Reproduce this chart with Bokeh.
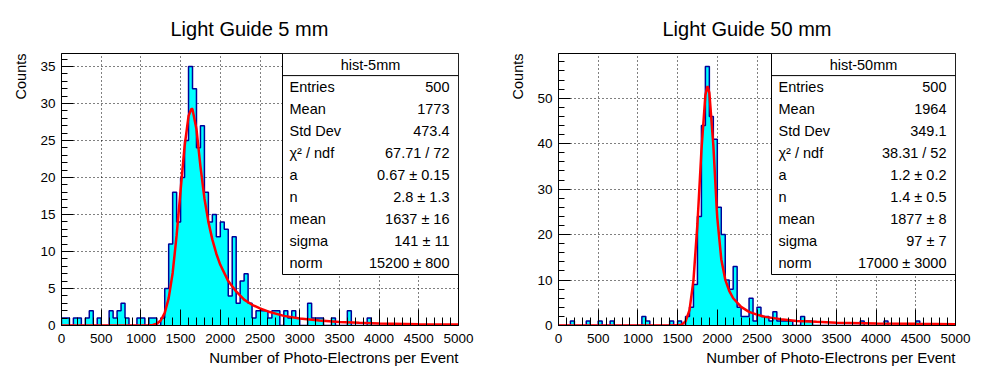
import numpy as np
from bokeh.plotting import figure
from bokeh.models import Label, Range1d, SingleIntervalTicker, Title
from bokeh.layouts import row
from bokeh.embed import file_html
from bokeh.resources import INLINE

# ---------------- data ----------------
bin_width = 50
n_bins = 100

counts_5mm = [
    1, 1, 0, 1, 1, 0, 1, 2, 0, 1,
    0, 0, 2, 1, 2, 3, 1, 0, 0, 1,
    1, 0, 1, 1, 0, 1, 5, 11, 18, 14,
    20, 25, 35, 32, 24, 27, 18, 14, 15, 12,
    14, 13, 4, 12, 3, 6, 7, 3, 1, 2,
    2, 2, 1, 2, 2, 0, 2, 1, 2, 1,
    0, 0, 3, 1, 1, 1, 0, 0, 1, 0,
    0, 0, 2, 0, 0, 0, 0, 1, 0, 0,
    0, 0, 0, 0, 0, 0, 0, 0, 0, 0,
    0, 0, 0, 0, 0, 0, 0, 0, 0, 0,
]

counts_50mm = [
    0, 0, 0, 1, 0, 0, 0, 1, 0, 0,
    1, 0, 0, 1, 0, 0, 0, 0, 0, 0,
    0, 2, 1, 0, 0, 0, 0, 0, 1, 0,
    1, 0, 2, 4, 9, 24, 44, 57, 46, 41,
    26, 20, 10, 8, 13, 4, 2, 2, 6, 1,
    4, 2, 2, 1, 3, 1, 1, 1, 1, 0,
    0, 2, 1, 1, 0, 0, 0, 0, 0, 0,
    0, 0, 0, 0, 0, 0, 1, 0, 0, 0,
    0, 0, 1, 0, 0, 0, 0, 0, 0, 0,
    1, 0, 0, 0, 0, 0, 0, 0, 0, 0,
]

fit_x_5mm = [0, 1000, 1100, 1150, 1200, 1250, 1300, 1350, 1400, 1450, 1500, 1550,
             1600, 1637, 1650, 1700, 1730, 1750, 1800, 1850, 1900, 1950, 2000, 2100,
             2200, 2300, 2400, 2500, 2600, 2800, 3000, 3250, 3500, 3750, 4000, 4500, 5000]
fit_y_5mm = [0, 0, 0.02, 0.08, 0.24, 0.68, 1.7, 3.7, 7.1, 12.2, 18.3, 24.2,
             28.3, 29.3, 29.2, 26.5, 23.5, 21.5, 17.2, 14.0, 11.6, 9.7, 8.2, 6.0,
             4.6, 3.5, 2.8, 2.3, 1.9, 1.3, 0.94, 0.66, 0.48, 0.36, 0.28, 0.18, 0.12]

fit_x_50mm = [0, 1400, 1500, 1550, 1600, 1650, 1700, 1750, 1800, 1850, 1877, 1900,
              1950, 1975, 1993, 2000, 2050, 2100, 2150, 2200, 2300, 2400, 2500, 2600,
              2800, 3000, 3250, 3500, 4000, 4500, 5000]
fit_y_50mm = [0, 0, 0.03, 0.18, 0.9, 3.4, 10.0, 22.4, 38.5, 50.7, 52.7, 51.2,
              39.7, 31.6, 25.6, 23.7, 14.6, 10.1, 7.6, 6.0, 4.1, 3.0, 2.4, 1.9,
              1.4, 1.0, 0.8, 0.62, 0.45, 0.36, 0.3]

stat_labels = ["Entries", "Mean", "Std Dev", "\u03c7\u00b2 / ndf", "a", "n", "mean", "sigma", "norm"]
stats_5mm = ["500", "1773", "473.4", "67.71 / 72", "0.67 \u00b1 0.15", "2.8 \u00b1 1.3",
             "1637 \u00b1 16", "141 \u00b1 11", "15200 \u00b1 800"]
stats_50mm = ["500", "1964", "349.1", "38.31 / 52", "1.2 \u00b1 0.2", "1.4 \u00b1 0.5",
              "1877 \u00b1 8", "97 \u00b1 7", "17000 \u00b1 3000"]

FONT = "Liberation Sans"
W, H = 497, 376
FL, FR, FT, FB = 61, 458, 53, 325
XMAX = 5000


def make_panel(title, title_offset, counts, fx, fy, hname, stats, ymax, ytick,
               box_left_px, label_px):
    p = figure(width=W, height=H, output_backend="svg", toolbar_location=None,
               x_range=Range1d(0, XMAX), y_range=Range1d(0, ymax),
               min_border_left=FL, min_border_right=W - FR,
               min_border_top=FT, min_border_bottom=H - FB)
    p.background_fill_color = "white"
    p.border_fill_color = "white"
    p.outline_line_color = "black"
    p.outline_line_width = 1
    p.outline_line_alpha = 1

    # main title (centred on the pad, not on the frame)
    p.title.text = title
    p.title.align = "left"
    p.title.offset = title_offset
    p.title.standoff = 27
    p.title.text_font = FONT
    p.title.text_font_size = "20px"
    p.title.text_font_style = "normal"
    p.title.text_color = "black"

    def to_data(px, py):
        return ((px - FL) / (FR - FL) * XMAX, (FB - py) / (FB - FT) * ymax)

    # axes
    xt = SingleIntervalTicker(interval=500, num_minor_ticks=5)
    yt = SingleIntervalTicker(interval=ytick, num_minor_ticks=5)
    p.xaxis.ticker = xt
    p.yaxis.ticker = yt
    for ax in (p.xaxis[0], p.yaxis[0]):
        ax.axis_line_color = "black"
        ax.major_tick_line_color = "black"
        ax.minor_tick_line_color = "black"
        ax.major_tick_out = 0
        ax.minor_tick_out = 0
        ax.major_label_text_font = FONT
        ax.major_label_text_font_size = "13.5px"
        ax.major_label_text_color = "black"
    p.xaxis.major_tick_in = 16
    p.xaxis.minor_tick_in = 8
    p.yaxis.major_tick_in = 12
    p.yaxis.minor_tick_in = 6
    p.xaxis.major_label_standoff = 8
    p.yaxis.major_label_standoff = 6

    # axis titles as side titles (right / top aligned like ROOT)
    xlab = Title(text="Number of Photo-Electrons per Event", align="right",
                 text_font=FONT, text_font_size="15px", text_font_style="normal",
                 text_color="black", standoff=2)
    p.add_layout(xlab, "below")
    ylab = Title(text="Counts", align="right", text_font=FONT, text_font_size="14.5px",
                 text_font_style="normal", text_color="black", standoff=17)
    p.add_layout(ylab, "left")

    p.xgrid.ticker = xt
    p.ygrid.ticker = yt
    for g in (p.xgrid[0], p.ygrid[0]):
        g.grid_line_color = "black"
        g.grid_line_dash = "1 3"
        g.grid_line_width = 1
        g.grid_line_alpha = 1

    # histogram
    edges = np.arange(n_bins + 1) * bin_width
    sx, sy = [float(edges[0])], [0.0]
    for i, c in enumerate(counts):
        sx += [float(edges[i]), float(edges[i + 1])]
        sy += [c, c]
    sx.append(float(edges[-1]))
    sy.append(0.0)
    p.patch(sx, sy, fill_color="#00ffff", line_color=None)
    p.line(sx, sy, line_color="#000099", line_width=1.5)

    # fit curve
    p.line(fx, fy, line_color="#ff0000", line_width=2.5)

    # stats box
    bl, _ = to_data(box_left_px, 0)
    _, bb = to_data(0, 274)
    _, hl = to_data(0, 75.1)
    p.quad(left=[bl], right=[XMAX], bottom=[bb], top=[ymax], fill_color="white",
           line_color="black", line_width=1)
    p.segment(x0=[bl], x1=[XMAX], y0=[hl], y1=[hl], line_color="black", line_width=1)

    def add_text(px, py, text, size, align="left"):
        x, y = to_data(px, py)
        p.add_layout(Label(x=x, y=y, text=text, text_font=FONT,
                           text_font_size=f"{size}px", text_align=align,
                           text_baseline="middle", text_color="black"))

    row_h = (274 - 53) / 10.0
    add_text((box_left_px + FR) / 2.0, 53 + row_h * 0.5, hname, 14.5, "center")
    for k, (lab, val) in enumerate(zip(stat_labels, stats)):
        yy = 53 + row_h * (k + 1.5)
        add_text(label_px, yy, lab, 14.5, "left")
        add_text(449, yy, val, 14.5, "right")
    return p


p1 = make_panel("Light Guide 5 mm", 109, counts_5mm, fit_x_5mm, fit_y_5mm, "hist-5mm",
                stats_5mm, 36.75, 5, 282, 289)
p2 = make_panel("Light Guide 50 mm", 104, counts_50mm, fit_x_50mm, fit_y_50mm, "hist-50mm",
                stats_50mm, 59.85, 10, 274, 281)

layout = row(p1, p2, spacing=0)
open("out.html", "w").write(file_html(layout, INLINE))
